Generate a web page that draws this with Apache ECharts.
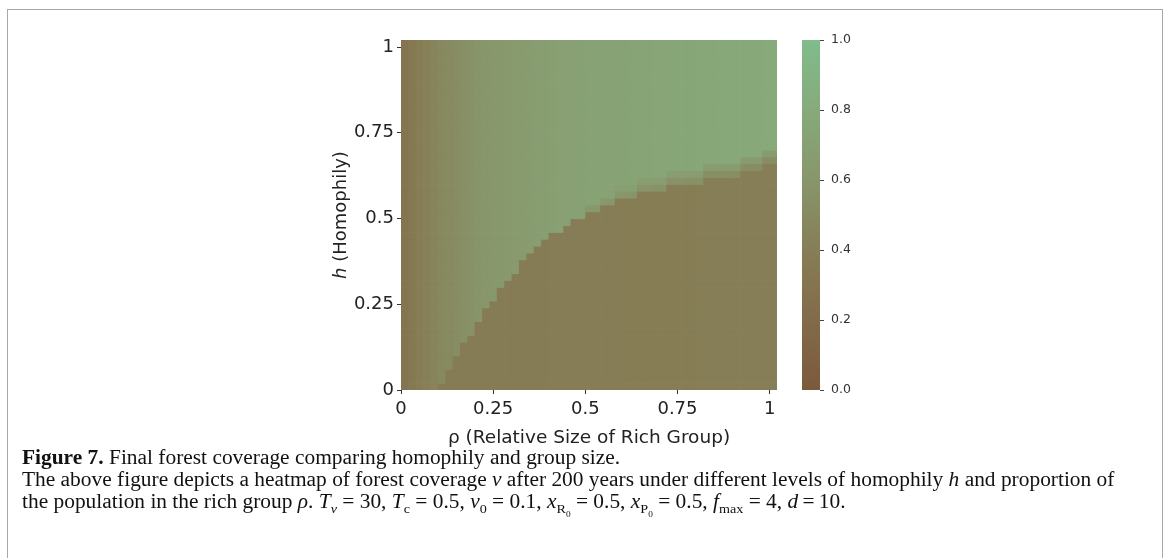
<!DOCTYPE html>
<html>
<head>
<meta charset="utf-8">
<script src="https://cdn.jsdelivr.net/npm/echarts@6/dist/echarts.min.js"></script>
<style>
  html, body { margin: 0; padding: 0; background: #fff; }
  #wrap { position: relative; width: 1167px; height: 558px; overflow: hidden; }
  #frame { position: absolute; left: 7px; top: 9px; width: 1156px; height: 600px; border: 1px solid #a8a8a8; box-sizing: border-box; }
  #chart { position: absolute; left: 0; top: 0; width: 1167px; height: 558px; }
  #caption { position: absolute; left: 22px; top: 446px; font-family: "Liberation Serif", "DejaVu Serif", serif; font-size: 20px; line-height: 22px; color: #111; white-space: nowrap; transform: scaleX(1.07); transform-origin: 0 0; }
  #caption sub { font-size: 66%; line-height: 0; }
</style>
</head>
<body>
<div id="wrap">
  <div id="frame"></div>
  <div id="chart"></div>
  <div id="caption">
    <b>Figure 7.</b> Final forest coverage comparing homophily and group size.<br>
    The above figure depicts a heatmap of forest coverage <i>v</i> after 200 years under different levels of homophily <i>h</i> and proportion of<br>
    the population in the rich group <i>ρ</i>. <i>T<sub>v</sub></i> = 30, <i>T</i><sub>c</sub> = 0.5, <i>v</i><sub>0</sub> = 0.1, <i>x</i><sub>R<sub>0</sub></sub> = 0.5, <i>x</i><sub>P<sub>0</sub></sub> = 0.5, <i>f</i><sub>max</sub> = 4, <i>d</i>&#8201;=&#8201;10.
  </div>
</div>
<script>
// ρ (columns) and h (rows): 51 grid steps from 0 to 1
const rhoCats = ['0','0.02','0.04','0.06','0.08','0.1','0.12','0.14','0.16','0.18','0.2','0.22','0.24','0.26','0.28','0.3','0.32','0.34','0.36','0.38','0.4','0.42','0.44','0.46','0.48','0.5','0.52','0.54','0.56','0.58','0.6','0.62','0.64','0.66','0.68','0.7','0.72','0.74','0.76','0.78','0.8','0.82','0.84','0.86','0.88','0.9','0.92','0.94','0.96','0.98','1'];
const hCats = rhoCats.slice();
const cellStep = 0.02;
// axis tick labels
const axisTickValues = [0, 0.25, 0.5, 0.75, 1];
const axisTickLabels = ['0', '0.25', '0.5', '0.75', '1'];
const cbarTickLabels = ['0.0', '0.2', '0.4', '0.6', '0.8', '1.0'];
// colour map (v = 0 … 1, evenly spaced stops)
const cmapColors = ['#7b5a3c', '#826b48', '#867e56', '#88966b', '#87aa7b', '#80bc8c'];

// forest coverage in the high-h (green) region, per ρ column
const upperV = [0.31,0.35,0.39,0.42,0.45,0.48,0.50,0.52,0.54,0.56,
                0.58,0.60,0.61,0.62,0.63,0.64,0.65,0.66,0.67,0.68,
                0.69,0.70,0.70,0.71,0.71,0.72,0.72,0.72,0.73,0.73,
                0.73,0.74,0.74,0.74,0.75,0.75,0.75,0.76,0.76,0.76,
                0.77,0.77,0.77,0.78,0.78,0.78,0.79,0.79,0.79,0.80,0.80];
// forest coverage in the low-h (brown) region, per ρ column
const lowerV = [0.38,0.38,0.38,0.38,0.38,0.37,0.37,0.37,0.37,0.37,
                0.37,0.37,0.37,0.37,0.37,0.37,0.37,0.37,0.37,0.37,
                0.38,0.38,0.38,0.38,0.38,0.38,0.38,0.38,0.38,0.38,
                0.39,0.39,0.39,0.39,0.39,0.39,0.39,0.39,0.39,0.39,
                0.40,0.40,0.40,0.40,0.40,0.40,0.40,0.40,0.40,0.40,0.40];
// number of brown rows (from h = 0) in each ρ column
const boundRows = [0,0,0,0,0,1,3,5,7,8,
                   10,12,13,15,16,17,19,20,21,22,
                   23,23,24,25,25,26,26,27,27,28,
                   28,28,29,29,29,29,30,30,30,30,
                   30,31,31,31,31,31,32,32,32,33,33];
// blurred first and second rows above the boundary (null = same as upper region)
const edgeV1 = [null,null,null,null,null,null,null,null,null,null,
                null,null,null,null,null,null,null,null,null,null,
                null,null,null,null,null,0.62,0.62,0.61,0.60,0.60,
                0.59,0.59,0.58,0.58,0.57,0.57,0.56,0.56,0.55,0.55,
                0.55,0.54,0.54,0.54,0.53,0.53,0.53,0.52,0.52,0.52,0.52];
const edgeV2 = [null,null,null,null,null,null,null,null,null,null,
                null,null,null,null,null,null,null,null,null,null,
                null,null,null,null,null,null,null,null,null,0.69,
                0.69,0.69,0.68,0.68,0.68,0.68,0.67,0.67,0.67,0.67,
                0.66,0.66,0.66,0.66,0.66,0.65,0.65,0.65,0.65,0.65,0.65];

const data = [];
for (let i = 0; i < rhoCats.length; i++) {
  for (let j = 0; j < hCats.length; j++) {
    let v = upperV[i];
    if (j < boundRows[i]) v = lowerV[i];
    else if (j === boundRows[i] && edgeV1[i] !== null) v = edgeV1[i];
    else if (j === boundRows[i] + 1 && edgeV2[i] !== null) v = edgeV2[i];
    data.push([parseFloat(rhoCats[i]), parseFloat(hCats[j]), v]);
  }
}

const tickFont = { fontFamily: 'DejaVu Sans', fontSize: 18, color: '#222' };
const axisMax = 1 + cellStep;
const fmt = v => { const k = axisTickValues.indexOf(Math.round(v * 100) / 100); return k < 0 ? '' : axisTickLabels[k]; };
const chart = echarts.init(document.getElementById('chart'), null, { renderer: 'canvas' });
const cbar = { x: 802, y: 40, w: 18, h: 350 };
chart.setOption({
  animation: false,
  grid: [
    { left: 401, top: 40, width: 376, height: 350 },
    { left: cbar.x, top: cbar.y, width: cbar.w, height: cbar.h }
  ],
  xAxis: [
    { type: 'value', gridIndex: 0, min: 0, max: axisMax, position: 'bottom',
      axisLine: { show: false, onZero: false }, splitLine: { show: false },
      axisTick: { show: true, customValues: axisTickValues, length: 4, lineStyle: { color: '#333', width: 1 } },
      axisLabel: Object.assign({ customValues: axisTickValues, margin: 10, formatter: fmt }, tickFont),
      name: 'ρ (Relative Size of Rich Group)', nameLocation: 'middle', nameGap: 39,
      nameTextStyle: { fontFamily: 'DejaVu Sans', fontSize: 18.5, color: '#222' } },
    { type: 'value', gridIndex: 1, min: 0, max: 1, show: false }
  ],
  yAxis: [
    { type: 'value', gridIndex: 0, min: 0, max: axisMax, position: 'left',
      axisLine: { show: false, onZero: false }, splitLine: { show: false },
      axisTick: { show: true, customValues: axisTickValues, length: 4, lineStyle: { color: '#333', width: 1 } },
      axisLabel: Object.assign({ customValues: axisTickValues, margin: 7, formatter: fmt }, tickFont),
      name: '{i|h} (Homophily)', nameLocation: 'middle', nameGap: 50, nameRotate: 90,
      nameTextStyle: { fontFamily: 'DejaVu Sans', fontSize: 18, color: '#222',
        rich: { i: { fontFamily: 'DejaVu Sans', fontSize: 18, fontStyle: 'italic', color: '#222' } } } },
    { type: 'value', gridIndex: 1, min: 0, max: 1, interval: 0.2, position: 'right',
      axisLine: { show: false, onZero: false }, splitLine: { show: false },
      axisTick: { show: true, length: 4, lineStyle: { color: '#444', width: 1 } },
      axisLabel: { margin: 11, fontFamily: 'DejaVu Sans', fontSize: 12.5, color: '#333',
        formatter: v => cbarTickLabels[Math.round(v * 5)] } }
  ],
  visualMap: {
    type: 'continuous', min: 0, max: 1, seriesIndex: 0, dimension: 2, show: false,
    inRange: { color: cmapColors }
  },
  graphic: [{
    type: 'rect', silent: true,
    shape: { x: cbar.x, y: cbar.y, width: cbar.w, height: cbar.h },
    style: { fill: new echarts.graphic.LinearGradient(0, 1, 0, 0,
      cmapColors.map((c, k) => ({ offset: k / (cmapColors.length - 1), color: c }))) }
  }],
  series: [{
    type: 'custom', xAxisIndex: 0, yAxisIndex: 0, data: data, clip: true,
    encode: { x: 0, y: 1 },
    renderItem: function (params, api) {
      const x = api.value(0), y = api.value(1);
      const p0 = api.coord([x, y + cellStep]);
      const p1 = api.coord([x + cellStep, y]);
      return {
        type: 'rect',
        shape: { x: p0[0], y: p0[1], width: p1[0] - p0[0] + 0.7, height: p1[1] - p0[1] + 0.7 },
        style: { fill: api.visual('color') }
      };
    }
  }]
});
</script>
</body>
</html>
